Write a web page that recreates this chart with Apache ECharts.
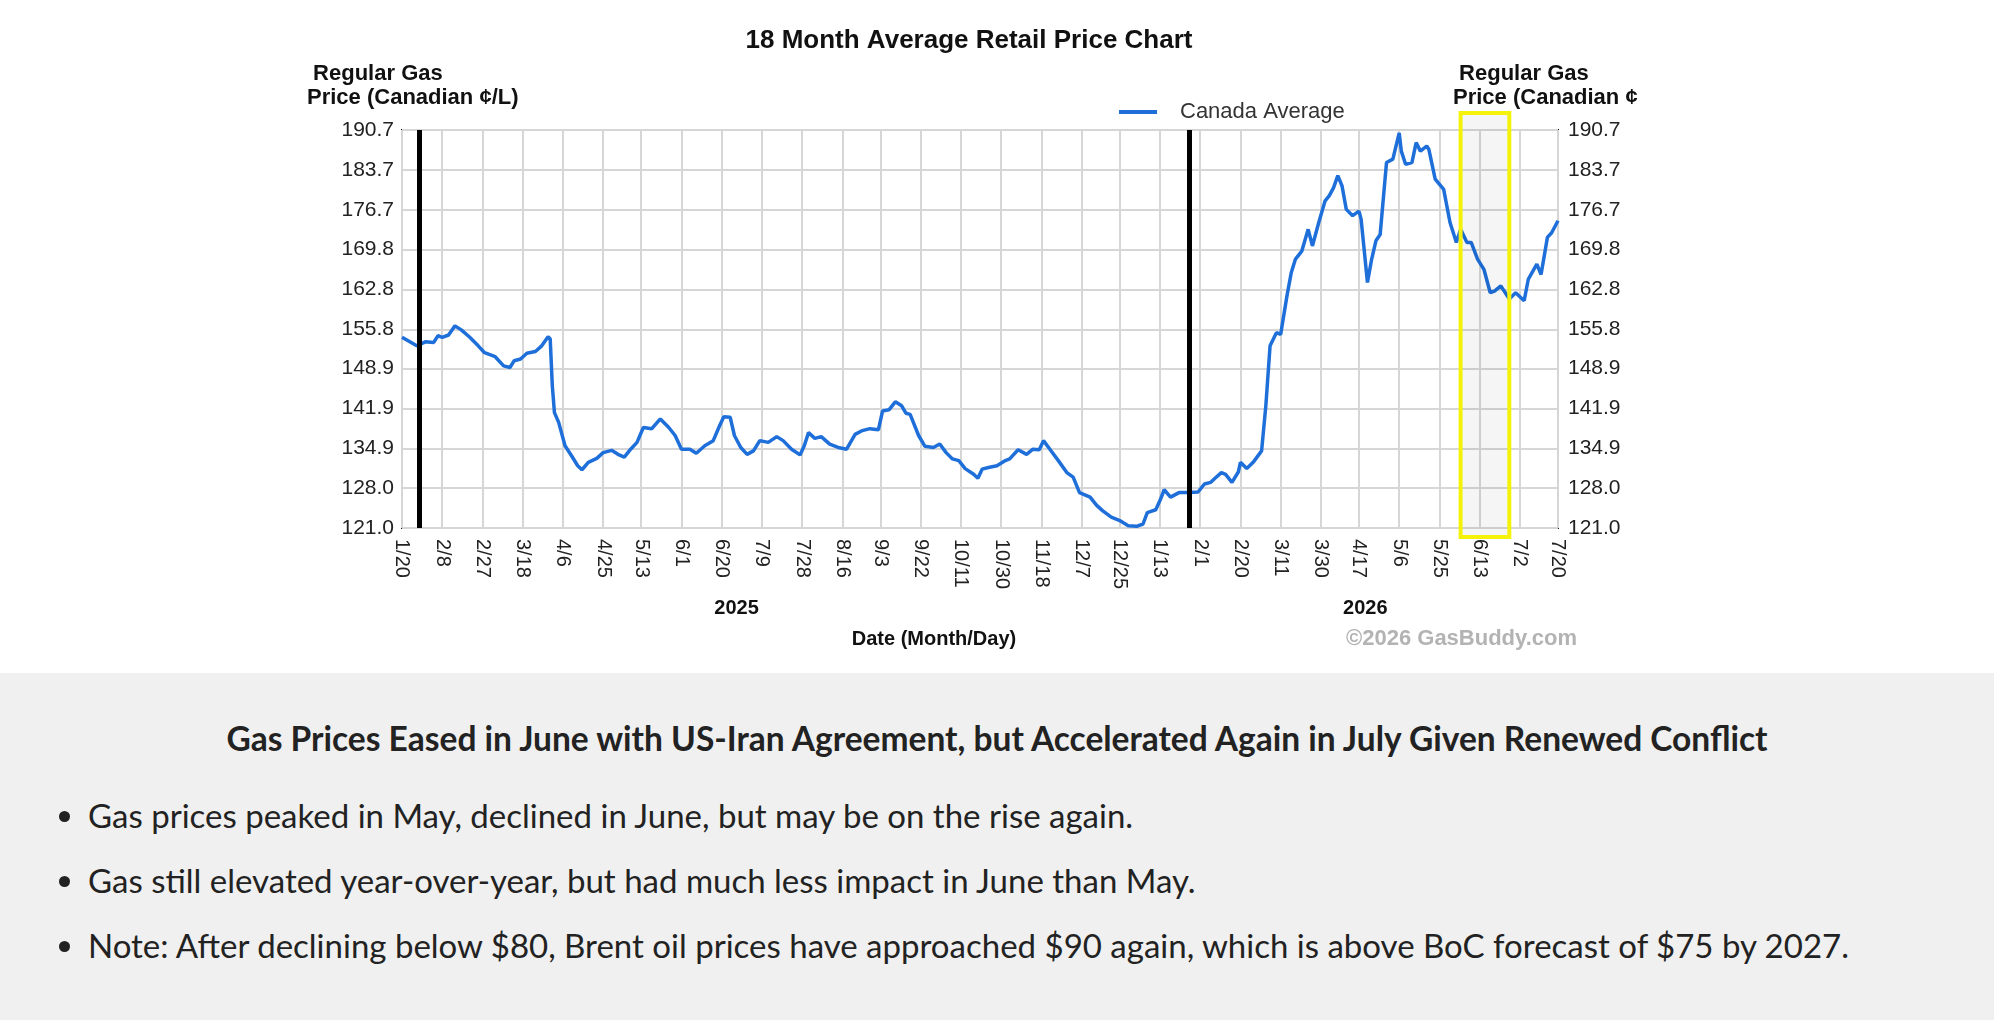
<!DOCTYPE html>
<html>
<head>
<meta charset="utf-8">
<title>18 Month Average Retail Price Chart</title>
<script src="https://cdn.jsdelivr.net/npm/echarts@6/dist/echarts.min.js"></script>
<style>
  html, body { margin: 0; padding: 0; background: #fff; }
  #chart { position: absolute; left: 0; top: 0; width: 1994px; height: 673px; }
  #notes { position: absolute; left: 0; top: 673px; width: 1994px; height: 347px; background: #f0f0f0;
           font-family: Lato, "Open Sans", sans-serif; color: #222; }
  #notes h2 { position: absolute; top: 43px; left: 0; width: 100%; margin: 0; font-size: 33.5px;
              line-height: 44px; font-weight: 700; text-align: center; }
  #notes ul { position: absolute; top: 120px; left: 0; margin: 0; padding: 0 0 0 88px;
              font-size: 33px; line-height: 44px; }
  #notes li { margin-bottom: 21px; }
</style>
</head>
<body>
<div id="chart"></div>
<div id="notes">
  <h2>Gas Prices Eased in June with US-Iran Agreement, but Accelerated Again in July Given Renewed Conflict</h2>
  <ul>
    <li>Gas prices peaked in May, declined in June, but may be on the rise again.</li>
    <li>Gas still elevated year-over-year, but had much less impact in June than May.</li>
    <li>Note: After declining below $80, Brent oil prices have approached $90 again, which is above BoC forecast of $75 by 2027.</li>
  </ul>
</div>
<script>
// ---- data ----
var seriesName = 'Canada Average';

// x axis tick dates (labels shown as M/D)
var xTickDates = ['2025-01-20', '2025-02-08', '2025-02-27', '2025-03-18', '2025-04-06', '2025-04-25',
  '2025-05-13', '2025-06-01', '2025-06-20', '2025-07-09', '2025-07-28', '2025-08-16', '2025-09-03',
  '2025-09-22', '2025-10-11', '2025-10-30', '2025-11-18', '2025-12-07', '2025-12-25', '2026-01-13',
  '2026-02-01', '2026-02-20', '2026-03-11', '2026-03-30', '2026-04-17', '2026-05-06', '2026-05-25',
  '2026-06-13', '2026-07-02', '2026-07-20'];

// y axis tick labels (cents per litre)
var yTicks = [121.0, 128.0, 134.9, 141.9, 148.9, 155.8, 162.8, 169.8, 176.7, 183.7, 190.7];

// year markers (thick black lines), year captions and the highlighted window
var yearLines = ['2025-01-28', '2026-01-27'];
var yearLabels = ['2025', '2026'];
var yearLabelDates = ['2025-06-27', '2026-04-20'];
var highlightRange = ['2026-06-04', '2026-06-27'];

var priceDates = [
  '2025-01-20', '2025-01-27', '2025-01-31', '2025-02-04', '2025-02-06', '2025-02-08', '2025-02-11',
  '2025-02-14', '2025-02-17', '2025-02-21', '2025-02-25', '2025-02-28', '2025-03-05', '2025-03-09',
  '2025-03-12', '2025-03-14', '2025-03-17', '2025-03-20', '2025-03-24', '2025-03-27', '2025-03-30',
  '2025-03-31', '2025-04-01', '2025-04-02', '2025-04-04', '2025-04-07', '2025-04-10', '2025-04-13',
  '2025-04-15', '2025-04-18', '2025-04-22', '2025-04-25', '2025-04-29', '2025-05-02', '2025-05-05',
  '2025-05-08', '2025-05-11', '2025-05-14', '2025-05-18', '2025-05-22', '2025-05-26', '2025-05-29',
  '2025-06-01', '2025-06-05', '2025-06-08', '2025-06-12', '2025-06-16', '2025-06-19', '2025-06-21',
  '2025-06-24', '2025-06-26', '2025-06-29', '2025-07-02', '2025-07-05', '2025-07-08', '2025-07-12',
  '2025-07-16', '2025-07-19', '2025-07-23', '2025-07-27', '2025-07-29', '2025-07-31', '2025-08-03',
  '2025-08-06', '2025-08-10', '2025-08-14', '2025-08-18', '2025-08-22', '2025-08-25', '2025-08-29',
  '2025-09-02', '2025-09-04', '2025-09-07', '2025-09-10', '2025-09-13', '2025-09-15', '2025-09-17',
  '2025-09-21', '2025-09-24', '2025-09-28', '2025-10-01', '2025-10-04', '2025-10-07', '2025-10-10',
  '2025-10-13', '2025-10-17', '2025-10-19', '2025-10-21', '2025-10-24', '2025-10-28', '2025-11-01',
  '2025-11-03', '2025-11-07', '2025-11-11', '2025-11-14', '2025-11-17', '2025-11-19', '2025-11-22',
  '2025-11-26', '2025-11-30', '2025-12-03', '2025-12-06', '2025-12-11', '2025-12-14', '2025-12-17',
  '2025-12-21', '2025-12-25', '2025-12-29', '2026-01-02', '2026-01-05', '2026-01-07', '2026-01-11',
  '2026-01-13', '2026-01-15', '2026-01-18', '2026-01-22', '2026-01-27', '2026-01-31', '2026-02-03',
  '2026-02-06', '2026-02-08', '2026-02-11', '2026-02-13', '2026-02-16', '2026-02-19', '2026-02-20',
  '2026-02-23', '2026-02-26', '2026-03-02', '2026-03-04', '2026-03-06', '2026-03-09', '2026-03-11',
  '2026-03-14', '2026-03-16', '2026-03-18', '2026-03-21', '2026-03-24', '2026-03-26', '2026-03-29',
  '2026-04-01', '2026-04-03', '2026-04-05', '2026-04-07', '2026-04-09', '2026-04-11', '2026-04-14',
  '2026-04-17', '2026-04-18', '2026-04-21', '2026-04-23', '2026-04-25', '2026-04-27', '2026-04-30',
  '2026-05-03', '2026-05-06', '2026-05-07', '2026-05-09', '2026-05-12', '2026-05-14', '2026-05-16',
  '2026-05-19', '2026-05-20', '2026-05-23', '2026-05-27', '2026-05-30', '2026-06-02', '2026-06-04',
  '2026-06-07', '2026-06-09', '2026-06-12', '2026-06-15', '2026-06-18', '2026-06-20', '2026-06-23',
  '2026-06-27', '2026-06-30', '2026-07-04', '2026-07-06', '2026-07-10', '2026-07-12', '2026-07-15',
  '2026-07-17', '2026-07-20'];

var prices = [
  154.4, 152.9, 153.6, 153.5, 154.7, 154.4, 154.8,
  156.4, 155.7, 154.4, 152.9, 151.7, 151.0, 149.4,
  149.1, 150.3, 150.6, 151.6, 151.9, 152.9, 154.5,
  154.1, 145.9, 141.2, 139.5, 135.4, 133.7, 131.9,
  131.2, 132.5, 133.2, 134.2, 134.6, 133.9, 133.4,
  134.8, 136.0, 138.6, 138.4, 140.1, 138.6, 137.2,
  134.8, 134.8, 134.1, 135.4, 136.3, 138.9, 140.5,
  140.4, 137.2, 135.1, 133.9, 134.5, 136.3, 136.0,
  137.0, 136.3, 134.8, 133.8, 135.4, 137.7, 136.7,
  137.0, 135.7, 135.1, 134.8, 137.4, 138.0, 138.4,
  138.2, 141.5, 141.7, 143.1, 142.4, 141.1, 140.9,
  137.2, 135.3, 135.1, 135.7, 134.2, 133.1, 132.8,
  131.4, 130.4, 129.7, 131.3, 131.6, 131.9, 132.8,
  133.1, 134.7, 133.9, 134.8, 134.7, 136.3, 134.8,
  132.8, 130.7, 129.9, 127.2, 126.4, 125.0, 124.0,
  122.9, 122.3, 121.4, 121.3, 121.7, 123.7, 124.2,
  125.8, 127.7, 126.4, 127.2, 127.2, 127.3, 128.7,
  129.0, 129.7, 130.7, 130.4, 129.0, 130.8, 132.5,
  131.4, 132.5, 134.5, 142.4, 152.9, 155.2, 154.9,
  161.7, 165.7, 168.1, 169.5, 173.3, 170.4, 174.5,
  178.3, 179.2, 180.6, 182.7, 180.9, 176.8, 175.7,
  176.5, 175.1, 164.0, 168.1, 171.3, 172.4, 185.0,
  185.6, 190.2, 187.0, 184.7, 185.0, 188.5, 187.0,
  187.9, 187.3, 182.1, 180.3, 174.5, 171.0, 173.3,
  171.0, 171.0, 168.1, 166.3, 162.2, 162.5, 163.4,
  161.1, 162.2, 160.8, 164.6, 167.2, 165.4, 171.9,
  172.7, 174.8];

// ---- helpers ----
function ts(s) {
  var p = s.split('-');
  return new Date(+p[0], +p[1] - 1, +p[2]).getTime();
}
function monthDay(v) {
  var d = new Date(v);
  return (d.getMonth() + 1) + '/' + d.getDate();
}

var FONT = '"Liberation Sans", Arial, sans-serif';
var LABEL = '#222';
var xTicks = xTickDates.map(ts);

var chart = echarts.init(document.getElementById('chart'));

var option = {
  animation: false,
  backgroundColor: '#fff',
  title: {
    text: '18 Month Average Retail Price Chart',
    left: 969,
    top: 28,
    padding: 0,
    textAlign: 'center',
    textStyle: { fontFamily: FONT, fontSize: 26, fontWeight: 'bold', color: '#111' }
  },
  legend: {
    data: [seriesName],
    left: 1119,
    top: 101,
    padding: 0,
    icon: 'rect',
    itemWidth: 38,
    itemHeight: 4,
    textStyle: { fontFamily: FONT, fontSize: 22, color: '#333', padding: [0, 0, 0, 18] }
  },
  grid: {
    left: 402, top: 130, width: 1156, height: 398,
    show: true, backgroundColor: '#fff', borderColor: '#111', borderWidth: 2,
    outerBoundsMode: 'none'
  },
  xAxis: {
    type: 'value',
    min: xTicks[0],
    max: xTicks[xTicks.length - 1],
    axisLine: { show: false },
    axisTick: { show: false, customValues: xTicks },
    axisLabel: {
      customValues: xTicks,
      rotate: -90,
      margin: 11,
      fontFamily: FONT, fontSize: 20, color: LABEL,
      formatter: function (v) { return monthDay(v); }
    },
    splitLine: { show: true, lineStyle: { color: '#d6d6d6', width: 2 } }
  },
  yAxis: [0, 1].map(function (i) {
    return {
      type: 'value',
      position: i === 0 ? 'left' : 'right',
      min: yTicks[0],
      max: yTicks[yTicks.length - 1],
      axisLine: { show: false },
      axisTick: { show: false, customValues: yTicks },
      axisLabel: {
        customValues: yTicks,
        margin: i === 0 ? 8 : 10,
        fontFamily: FONT, fontSize: 21, color: LABEL,
        formatter: function (v) { return v.toFixed(1); }
      },
      splitLine: { show: i === 0, lineStyle: { color: '#d6d6d6', width: 2 } }
    };
  }),
  series: [{
    name: seriesName,
    type: 'line',
    data: priceDates.map(function (d, i) { return [ts(d), prices[i]]; }),
    symbol: 'none',
    lineStyle: { color: '#1e6fd9', width: 3.5 },
    itemStyle: { color: '#1e6fd9' },
    z: 3,
    markLine: {
      silent: true,
      symbol: ['none', 'none'],
      label: { show: false },
      lineStyle: { color: '#000', width: 5, type: 'solid' },
      emphasis: { disabled: true },
      data: yearLines.map(function (d) { return { xAxis: ts(d) }; })
    }
  }]
};
chart.setOption(option);

// annotations placed through the chart's own scales
function px(dateStr, val) {
  return chart.convertToPixel({ gridIndex: 0 }, [ts(dateStr), val]);
}
var yTop = px(xTickDates[0], yTicks[yTicks.length - 1])[1];
var yBot = px(xTickDates[0], yTicks[0])[1];
var hx0 = px(highlightRange[0], yTicks[0])[0];
var hx1 = px(highlightRange[1], yTicks[0])[0];

var graphics = [
  {
    type: 'rect', z: 10, silent: true,
    shape: { x: hx0, y: yTop - 17, width: hx1 - hx0, height: (yBot + 9) - (yTop - 17) },
    style: { fill: 'rgba(0,0,0,0.04)', stroke: '#f5f20a', lineWidth: 4 }
  },
  {
    type: 'text', x: 307, y: 62, silent: true,
    style: { text: ' Regular Gas\nPrice (Canadian ¢/L)', font: 'bold 22px ' + FONT, lineHeight: 24,
             fill: '#111', align: 'left', verticalAlign: 'top' }
  },
  {
    type: 'text', x: 1453, y: 62, silent: true,
    style: { text: ' Regular Gas\nPrice (Canadian ¢', font: 'bold 22px ' + FONT, lineHeight: 24,
             fill: '#111', align: 'left', verticalAlign: 'top' }
  },
  {
    type: 'text', x: 934, y: 639, silent: true,
    style: { text: 'Date (Month/Day)', font: 'bold 20px ' + FONT, fill: '#111', align: 'center', verticalAlign: 'middle' }
  },
  {
    type: 'text', x: 1577, y: 639, silent: true,
    style: { text: '©2026 GasBuddy.com', font: 'bold 22px ' + FONT, fill: '#b3b3b3', align: 'right', verticalAlign: 'middle' }
  }
];
yearLabels.forEach(function (t, i) {
  graphics.push({
    type: 'text', x: px(yearLabelDates[i], yTicks[0])[0], y: 608, silent: true,
    style: { text: t, font: 'bold 20px ' + FONT, fill: '#111', align: 'center', verticalAlign: 'middle' }
  });
});
chart.setOption({ graphic: graphics });
</script>
</body>
</html>
